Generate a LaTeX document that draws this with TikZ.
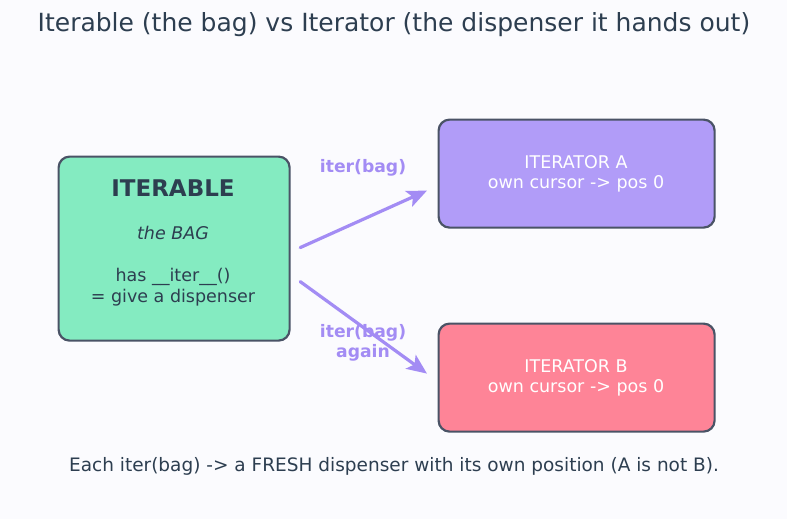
\documentclass[tikz,border=0pt]{standalone}
\usepackage{fontspec}
\setmainfont{DejaVu Sans}
\usetikzlibrary{arrows.meta,calc}
\definecolor{bgc}{HTML}{FBFBFE}
\definecolor{edgec}{HTML}{4A5366}
\definecolor{txtc}{HTML}{2D3E50}
\definecolor{greenc}{HTML}{84EBC1}
\definecolor{purpc}{HTML}{B19CF8}
\definecolor{pinkc}{HTML}{FE8497}
\definecolor{arrc}{HTML}{A38CF4}
\tikzset{
  boxc/.style={draw=edgec, line width=2.2pt, rounded corners=11pt, inner sep=0pt, anchor=north west},
  arr/.style={draw=arrc, line width=3.2pt, line cap=round, -{Stealth[length=20pt,width=17pt,inset=4.5pt]}},
  lbl/.style={text=arrc, font=\fontsize{17.2}{21}\selectfont\bfseries, align=center},
  body/.style={font=\fontsize{17.5}{21.5}\selectfont, align=center},
}
\begin{document}
\begin{tikzpicture}[x=1pt,y=-1pt]
\fill[bgc] (0,0) rectangle (787,519);
\useasboundingbox (0,0) rectangle (787,519);
\node[text=txtc, font=\fontsize{25}{30}\selectfont] (title) at (394,25) {Iterable (the bag) vs Iterator (the dispenser it hands out)};
\node[boxc, fill=greenc, minimum width=231pt, minimum height=184pt] (iterable) at (57.5,155.5) {};
\node[text=txtc, font=\fontsize{23}{27}\selectfont\bfseries] (t1) at (173,188) {ITERABLE};
\node[text=txtc, body, font=\fontsize{17.5}{21}\selectfont\itshape] (t2) at (173,233) {the BAG};
\node[text=txtc, body] (t3) at (173,287) {has \_\_iter\_\_()\\[-1pt]= give a dispenser};
\node[boxc, fill=purpc, minimum width=276pt, minimum height=108pt] (itA) at (437.5,118.5) {};
\node[text=white, body] (tA) at (576,174) {ITERATOR A\\[-1pt]own cursor -> pos 0};
\node[boxc, fill=pinkc, minimum width=276pt, minimum height=108pt] (itB) at (437.5,322.5) {};
\node[text=white, body] (tB) at (576,378) {ITERATOR B\\[-1pt]own cursor -> pos 0};
\coordinate (s1) at ($(iterable.east)+(9.5,-1)$);
\coordinate (e1) at ($(itA.west)+(-10.5,17)$);
\coordinate (s2) at ($(iterable.east)+(9.5,33)$);
\coordinate (e2) at ($(itB.west)+(-10.5,-4)$);
\draw[arr] (s1) -- (e1);
\draw[arr] (s2) -- (e2);
\node[lbl] (l1) at (363,168) {iter(bag)};
\node[lbl] (l2) at (363,343) {iter(bag)\\[-1pt]again};
\node[text=txtc, font=\fontsize{18.5}{22}\selectfont] (foot) at (394,466) {Each iter(bag) -> a FRESH dispenser with its own position (A is not B).};
\end{tikzpicture}
\end{document}
